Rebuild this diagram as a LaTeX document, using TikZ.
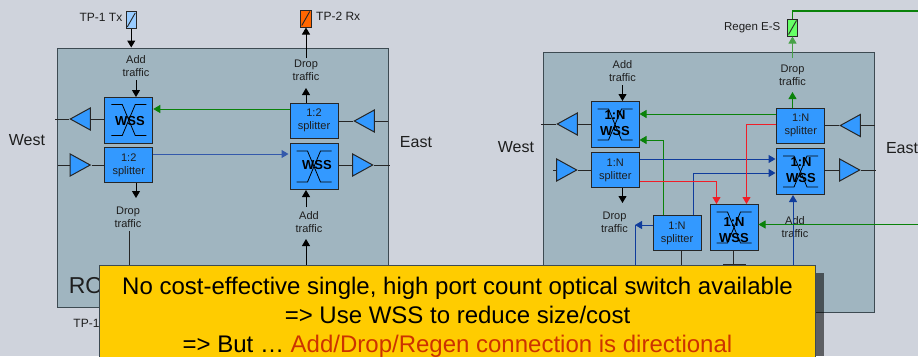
\documentclass[tikz,border=0pt]{standalone}
\usepackage{fontspec}
\setmainfont{Liberation Sans}
\usetikzlibrary{arrows.meta,shapes.geometric}
\definecolor{bgc}{HTML}{CFD3DC}
\definecolor{panel}{HTML}{A0B5C0}
\definecolor{panelb}{HTML}{3D4A52}
\definecolor{blk}{HTML}{3399FF}
\definecolor{yel}{HTML}{FFCC00}
\definecolor{txt}{HTML}{1E1E1E}
\definecolor{grn}{HTML}{0A820A}
\definecolor{blu}{HTML}{103C9C}
\definecolor{rd}{HTML}{F01E28}
\definecolor{rdt}{HTML}{CC3300}
\definecolor{tpb}{HTML}{99CCFF}
\definecolor{tpo}{HTML}{FF6600}
\definecolor{tpg}{HTML}{66FF66}
\tikzset{
  blockbase/.style={draw=black!85,fill=blk,line width=1pt,inner sep=0pt,align=center,text=txt},
  spl/.style={blockbase,minimum width=48pt,minimum height=35pt,font=\fontsize{11}{13}\selectfont},
  wssn/.style={blockbase,minimum width=48pt,minimum height=46pt},
  wsst/.style={font=\fontsize{13}{16}\selectfont\bfseries,inner sep=0pt,align=center,text=black},
  ampr/.style={draw=black!85,fill=blk,line width=1pt,isosceles triangle,isosceles triangle stretches,inner sep=0pt,minimum height=20pt,minimum width=22pt,anchor=apex},
  ampl/.style={ampr,shape border rotate=180},
  lbl/.style={font=\fontsize{11}{13}\selectfont,align=center,inner sep=0pt,text=txt},
  tplbl/.style={font=\fontsize{12}{14}\selectfont,inner sep=0pt,text=txt},
  side/.style={font=\fontsize{16}{18}\selectfont,inner sep=0pt,text=txt},
  tp/.style={draw=black!85,line width=1pt,minimum width=10.5pt,minimum height=17pt,inner sep=0pt},
  wl/.style={draw=black,line width=.8pt},
  ln/.style={draw=black!85,line width=1pt},
  arb/.style={line width=1pt,draw=black,-{Triangle[length=7pt,width=8pt]}},
  arg/.style={line width=1pt,draw=grn,-{Triangle[length=7pt,width=8pt]}},
  aru/.style={line width=1pt,draw=blu,-{Triangle[length=7pt,width=8pt]}},
  arr/.style={line width=1pt,draw=rd,-{Triangle[length=7pt,width=8pt]}},
  note/.style={font=\fontsize{24}{29}\selectfont,inner sep=0pt,text=black,anchor=base},
}
\newcommand{\wsssym}[1]{%
  \draw[wl] ([shift={(-17.5,-15.5)}]#1.center) -- ([shift={(-6.5,-15.5)}]#1.center) -- ([shift={(6.5,15.5)}]#1.center) -- ([shift={(17.5,15.5)}]#1.center);
  \draw[wl] ([shift={(17.5,-15.5)}]#1.center) -- ([shift={(6.5,-15.5)}]#1.center) -- ([shift={(-6.5,15.5)}]#1.center) -- ([shift={(-17.5,15.5)}]#1.center);
}
\newcommand{\tpslash}[1]{\draw[line width=.9pt,draw=black!85] ([shift={(-4,7)}]#1.center) -- ([shift={(4,-7)}]#1.center);}
\begin{document}
\begin{tikzpicture}[x=1pt,y=-1pt]
\useasboundingbox (0,0) rectangle (918,356);
\clip (0,0) rectangle (918,356);
\fill[bgc] (0,0) rectangle (918,356);
\coordinate (ytop) at (0,265);
% ---------- left panel
\draw[panelb,fill=panel,line width=1pt] (57.5,48) rectangle (388,307);
\node[inner sep=0pt,text=txt,font=\fontsize{23}{25}\selectfont] (ro) at (86,286) {RO};
\node[side] (west1) at (27,140) {West};
\node[side] (east1) at (416,142) {East};
\node[tp,fill=tpb] (tp1) at (131.25,20) {};
\tpslash{tp1}
\node[tp,fill=tpo] (tp2) at (305.75,18.5) {};
\tpslash{tp2}
\node[tplbl,anchor=east] (tp1l) at (122.5,17) {TP-1 Tx};
\node[tplbl,anchor=west] (tp2l) at (316,16) {TP-2 Rx};
\node[lbl] (add1) at (136,66) {Add\\traffic};
\node[lbl] (drop1) at (306,70) {Drop\\traffic};
\node[lbl] (drop2) at (128,217) {Drop\\traffic};
\node[lbl] (add2) at (309,222) {Add\\traffic};
\node[wssn] (lw) at (128.75,120) {};
\wsssym{lw}
\node[wsst] (lwt) at (130,121) {WSS};
\node[spl] (ls) at (128.75,165) {1:2\\splitter};
\node[spl] (rs) at (314,120.5) {1:2\\splitter};
\node[wssn] (rw) at (314,166.5) {};
\wsssym{rw}
\node[wsst] (rwt) at (317,165) {WSS};
\node[ampl] (a1) at (69,119) {};
\node[ampr] (a2) at (91.5,165) {};
\node[ampl] (a3) at (353,121) {};
\node[ampr] (a4) at (374,165) {};
\coordinate (e1) at (55,119); \coordinate (e2) at (57.5,165);
\coordinate (e3) at (388,121); \coordinate (e4) at (389.5,165);
\draw[ln] (e1) -- (a1.apex);
\draw[ln] (a1.lower side) -- (a1.lower side -| lw.west);
\draw[ln] (e2) -- (a2.lower side);
\draw[ln] (a2.apex) -- (a2.apex -| ls.west);
\draw[ln] (e3) -- (a3.lower side);
\draw[ln] (a3.apex) -- (a3.apex -| rs.east);
\draw[ln] (a4.lower side) -- (a4.lower side -| rw.east);
\draw[ln] (a4.apex) -- (e4);
\draw[arb] (tp1.south) -- (131.25,47.5);
\draw[arb] (306,58) -- (tp2.south -| 306,0);
\draw[arb] (136,80) -- (136,97);
\draw[arb] (306,0 |- rs.north) -- (306,88);
\draw[arb] (136,0 |- ls.south) -- (136,198);
\draw[arb] (306,207) -- (306,0 |- rw.south);
\draw[ln,line width=.9pt] (129,231) -- (129,0 |- ytop);
\draw[arb] (306,0 |- ytop) -- (306,239);
\draw[arg] (rs.west |- 0,109) -- (lw.east |- 0,109);
\draw[aru,draw=blu!85!white] (ls.east |- 0,154) -- (288.5,154);
% ---------- right panel
\draw[panelb,fill=panel,line width=1pt] (543.5,52.5) rectangle (874.5,312);
\node[side] (west2) at (516,147) {West};
\node[side] (east2) at (902,148) {East};
\node[tp,fill=tpg,minimum width=10pt] (tp3) at (792.5,27.5) {};
\tpslash{tp3}
\node[tplbl,font=\fontsize{11.5}{14}\selectfont,anchor=east] (tp3l) at (780.5,28) {Regen E-S};
\node[lbl] (add3) at (622.5,71) {Add\\traffic};
\node[lbl] (drop3) at (792.5,75) {Drop\\traffic};
\node[lbl] (drop4) at (614.5,222) {Drop\\traffic};
\node[lbl] (add4) at (795,227) {Add\\traffic};
\node[wssn] (lw2) at (615,124.5) {};
\wsssym{lw2}
\node[wsst] (lw2x) at (615,123.5) {1:N\\WSS};
\node[spl] (ls2) at (615.25,170) {1:N\\splitter};
\node[spl] (rs2) at (800.75,125.5) {1:N\\splitter};
\node[wssn] (rw2) at (800.5,171.5) {};
\wsssym{rw2}
\node[wsst] (rw2x) at (801,170.5) {1:N\\WSS};
\node[spl] (bs) at (677,233) {1:N\\splitter};
\node[wssn] (bw) at (734,227.5) {};
\wsssym{bw}
\node[wsst] (bwx) at (734,230) {1:N\\WSS};
\node[ampl] (b1) at (556,124) {};
\node[ampr] (b2) at (578,170) {};
\node[ampl] (b3) at (839,125.5) {};
\node[ampr] (b4) at (861,170) {};
\coordinate (f1) at (541,124); \coordinate (f2) at (553,170);
\coordinate (f3) at (874.5,125.5); \coordinate (f4) at (876,170);
\draw[ln] (f1) -- (b1.apex);
\draw[ln] (b1.lower side) -- (b1.lower side -| lw2.west);
\draw[ln] (f2) -- (b2.lower side);
\draw[ln] (b2.apex) -- (b2.apex -| ls2.west);
\draw[ln] (f3) -- (b3.lower side);
\draw[ln] (b3.apex) -- (b3.apex -| rs2.east);
\draw[ln] (b4.lower side) -- (b4.lower side -| rw2.east);
\draw[ln] (b4.apex) -- (f4);
\coordinate (gr) at (918,11);
\draw[grn,line width=1.2pt] (tp3.north) -- (792.5,11) -- (gr);
\draw[arg,draw=grn!75!white] (792.5,58) -- (tp3.south);
\draw[arg] (792.5,0 |- rs2.north) -- (792.5,92);
\draw[arb] (622.5,85) -- (622.5,0 |- lw2.north);
\draw[arb] (622.5,0 |- ls2.south) -- (622.5,203);
\draw[arg] (rs2.west |- 0,114) -- (lw2.east |- 0,114);
\draw[arg] (663.5,0 |- bs.north) -- (663.5,140) -- (lw2.east |- 0,140);
\draw[aru] (ls2.east |- 0,159) -- (775.5,159);
\draw[aru] (693,0 |- bs.north) -- (693,173) -- (775.5,173);
\draw[arr] (ls2.east |- 0,181) -- (716.5,181) -- (716.5,0 |- bw.north);
\draw[arr] (rs2.west |- 0,124) -- (746.5,124) -- (746.5,0 |- bw.north);
\draw[aru] (793,0 |- ytop) -- (793,0 |- rw2.south);
\coordinate (gi) at (918,224.5);
\draw[arg] (gi) -- (bw.east |- gi);
\draw[blu,line width=1pt] (635,0 |- ytop) -- (635,225);
\draw[aru] (bs.west |- 0,225) -- (635,225);
\draw[ln] (681,0 |- bs.south) -- (681,0 |- ytop);
\draw[ln] (733.5,0 |- bw.south) -- (733.5,0 |- ytop);
\draw[ln,line width=1.2pt] (723,264.5) -- (746,264.5);
% ---------- note
\node[tplbl] (tp1b) at (86.5,323) {TP-1};
\fill[black,opacity=.55] (815,273) rectangle (824,356);
\draw[panelb,fill=yel,line width=1pt] (99.5,265) rectangle (815,360);
\node[note] (n1) at (457.5,294) {No cost-effective single, high port count optical switch available};
\node[note] (n2) at (457.5,323) {=> Use WSS to reduce size/cost};
\node[note] (n3) at (457.5,352) {=> But … \textcolor{rdt}{Add/Drop/Regen connection is directional}};
\end{tikzpicture}
\end{document}
